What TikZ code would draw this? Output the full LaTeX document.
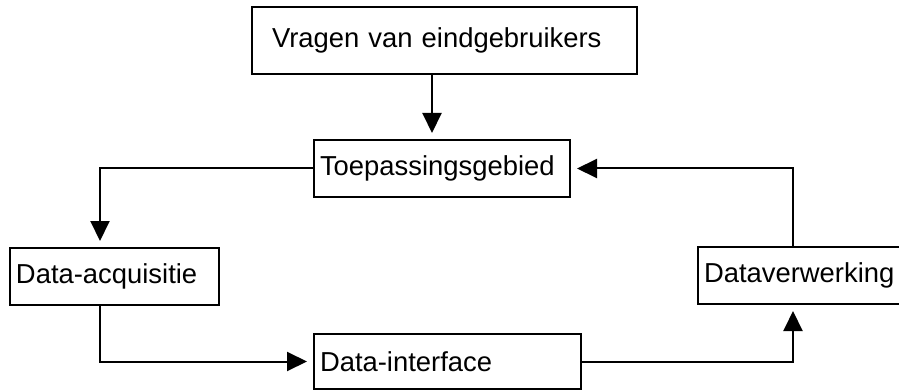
\documentclass[tikz,border=0pt]{standalone}
\usepackage{fontspec}
\setmainfont{Liberation Sans}
\usepackage{tikz}
\usetikzlibrary{positioning,arrows.meta}

\begin{document}
\begin{tikzpicture}[x=1pt, y=1pt, on grid, line width=2pt,
            >={Triangle[width=19pt,length=20pt]}, shorten >=6pt,
            blok/.style={draw, rectangle, minimum height=57pt, inner xsep=6pt,
                align=left, font=\fontsize{27.4pt}{33pt}\selectfont}
        ]
          \useasboundingbox (0,0) rectangle (899,-390);
          \node[blok, text width=345pt, inner xsep=20pt, minimum height=67pt] (vragen) at (444.5,-40.5) {Vragen van eindgebruikers};
          \node[blok, text width=244pt, xshift=-2.5pt] (toep) [below=128pt of vragen] {Toepassingsgebied};
          \node[blok, text width=197pt] (acq) [below left=108pt and 327.5pt of toep] {Data-acquisitie};
          \node[blok, text width=193pt] (verw) [below right=107pt and 358.5pt of toep] {Dataverwerking};
          \node[blok, text width=255pt, minimum height=55pt, xshift=5.5pt] (intf) [below=193pt of toep] {Data-interface};
          \draw[->] ([xshift=-12.5pt]vragen.south) -- ([xshift=-12.5pt]vragen.south |- toep.north);
          \draw[->] (toep.west) -| ([xshift=-14.5pt]acq.north);
          \draw[->] ([xshift=-14.5pt]acq.south) |- (intf.west);
          \draw[->] (intf.east) -| ([xshift=-7.5pt]verw.south);
          \draw[->] ([xshift=-7.5pt]verw.north) |- (toep.east);
        \end{tikzpicture}
\end{document}
